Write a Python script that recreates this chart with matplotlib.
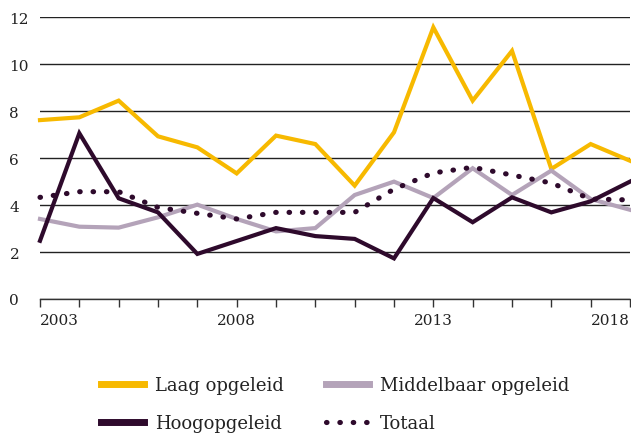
import matplotlib
matplotlib.use("Agg")
import matplotlib.pyplot as plt
from matplotlib.lines import Line2D

years = list(range(2003, 2019))
laag = [7.62, 7.74, 8.45, 6.93, 6.46, 5.35, 6.96, 6.6, 4.83, 7.1, 11.57, 8.45, 10.57, 5.54, 6.6, 5.89]
middelbaar = [3.41, 3.08, 3.04, 3.48, 4.02, 3.41, 2.88, 3.02, 4.43, 5.0, 4.3, 5.57, 4.43, 5.47, 4.26, 3.8]
hoog = [2.48, 7.06, 4.29, 3.69, 1.92, 2.47, 3.02, 2.68, 2.56, 1.73, 4.3, 3.27, 4.33, 3.69, 4.16, 5.0]
totaal = [4.33, 4.57, 4.57, 3.9, 3.65, 3.41, 3.69, 3.69, 3.69, 4.68, 5.37, 5.61, 5.28, 4.94, 4.26, 4.22]

yticks = [0, 2, 4, 6, 8, 10, 12]
xlabels = [2003, 2008, 2013, 2018]
series_names = ["Laag opgeleid", "Middelbaar opgeleid", "Hoogopgeleid", "Totaal"]

c_laag = "#f7b900"
c_mid = "#b4a3b9"
c_hoog = "#2e0a2c"
dots = (0, (0.1, 2.5))

plt.rcParams["font.family"] = ["DejaVu Serif"]

fig = plt.figure(figsize=(6.31, 4.39), dpi=100)
ax = fig.add_axes([40 / 631, 1 - 300 / 439, 590 / 631, (300 - 18.3) / 439])

ax.plot(years, laag, color=c_laag, lw=3.0, solid_joinstyle="miter", clip_on=False, zorder=3)
ax.plot(years, middelbaar, color=c_mid, lw=3.0, solid_joinstyle="miter", clip_on=False, zorder=3)
ax.plot(years, hoog, color=c_hoog, lw=3.0, solid_joinstyle="miter", clip_on=False, zorder=4)
ax.plot(years, totaal, color=c_hoog, lw=3.7, linestyle=dots, dash_capstyle="round",
        clip_on=False, zorder=4)

ax.set_xlim(2003, 2018)
ax.set_ylim(0, 12)
for s in ["top", "right", "left"]:
    ax.spines[s].set_visible(False)
ax.spines["bottom"].set_color("#333333")
ax.spines["bottom"].set_linewidth(1.0)

ax.set_yticks(yticks)
ax.set_yticklabels([str(v) for v in yticks])
ax.tick_params(axis="y", length=0, pad=22, labelsize=11, labelcolor="#222222")
for lab in ax.get_yticklabels():
    lab.set_horizontalalignment("left")
ax.yaxis.grid(True, color="#222222", lw=1.0)
ax.set_axisbelow(True)

ax.set_xticks(years, minor=True)
ax.set_xticks(xlabels)
ax.set_xticklabels([str(v) for v in xlabels])
ax.tick_params(axis="x", which="both", length=6, width=1.0, color="#333333",
               labelsize=11, labelcolor="#222222", pad=4)
xl = ax.get_xticklabels()
xl[0].set_horizontalalignment("left")
xl[-1].set_horizontalalignment("right")

handles = [
    Line2D([], [], color=c_laag, lw=5),
    Line2D([], [], color=c_hoog, lw=5),
    Line2D([], [], color=c_mid, lw=5),
    Line2D([], [], color=c_hoog, lw=3.7, linestyle=dots, dash_capstyle="round"),
]
labels = [series_names[0], series_names[2], series_names[1], series_names[3]]
fig.legend(handles, labels, ncol=2, loc="upper left", bbox_to_anchor=(92 / 631, 1 - 368 / 439),
           frameon=False, fontsize=13, handlelength=2.4, handletextpad=0.6,
           columnspacing=2.3, labelspacing=1.1, borderpad=0, labelcolor="#222222")

fig.savefig("out.png", dpi=100)
